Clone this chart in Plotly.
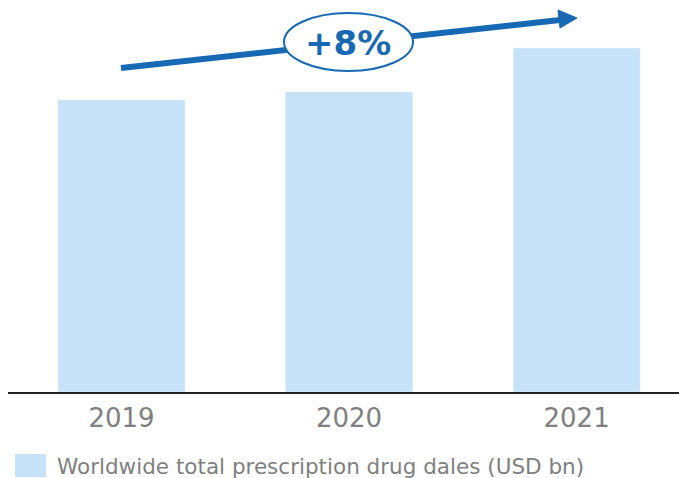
import plotly.graph_objects as go

years = ["2019", "2020", "2021"]
sales = [849, 872, 1000]
series_name = "Worldwide total prescription drug dales (USD bn)"
growth_label = "+8%"

W, H = 679, 478
L, R, T, B = 8, 0, 10, 86
pw, ph = W - L - R, H - T - B

def px(x):
    return (x - L) / pw

def py(y):
    return (H - B - y) / ph

bar_color = "#c5e2f8"
blue = "#1769b3"
grey = "#808080"

fig = go.Figure()
fig.add_trace(go.Bar(x=years, y=sales, name=series_name, marker_color=bar_color,
                     width=0.558, showlegend=False, hoverinfo="x+y"))

shapes = [
    dict(type="line", xref="paper", yref="paper", x0=px(121), y0=py(68), x1=px(560), y1=py(20),
         line=dict(color=blue, width=6)),
    dict(type="path", xref="paper", yref="paper",
         path=f"M {px(577)},{py(18)} L {px(560)},{py(28)} L {px(558)},{py(10)} Z",
         fillcolor=blue, line=dict(color=blue, width=1)),
    dict(type="circle", xref="paper", yref="paper", x0=px(284), x1=px(413), y0=py(71), y1=py(13),
         fillcolor="white", line=dict(color=blue, width=2)),
    dict(type="rect", xref="paper", yref="paper", x0=px(15), x1=px(46), y0=py(477), y1=py(454),
         fillcolor=bar_color, line=dict(width=0)),
]

annotations = [
    dict(text=f"<b>{growth_label}</b>", xref="paper", yref="paper", x=px(348), y=py(43),
         xanchor="center", yanchor="middle",
         showarrow=False, font=dict(family="DejaVu Sans", size=34, color=blue)),
    dict(text=series_name, xref="paper", yref="paper", x=px(55), y=py(466),
         xanchor="left", yanchor="middle", showarrow=False,
         font=dict(family="DejaVu Sans", size=21.5, color=grey)),
]

fig.update_layout(
    width=W, height=H,
    margin=dict(l=L, r=R, t=T, b=B),
    plot_bgcolor="white", paper_bgcolor="white",
    shapes=shapes, annotations=annotations,
    xaxis=dict(range=[-0.499, 2.45], showgrid=False, zeroline=False,
               showline=True, linecolor="#222222", linewidth=2,
               ticks="", tickfont=dict(family="DejaVu Sans", size=26, color=grey),
               ticklabelstandoff=2),
    yaxis=dict(range=[0, 1110.5], visible=False, showgrid=False, zeroline=False),
)

fig.write_html("out.html", config={"displayModeBar": False},
               post_script="document.body.style.margin='0';document.body.style.overflow='hidden';")
